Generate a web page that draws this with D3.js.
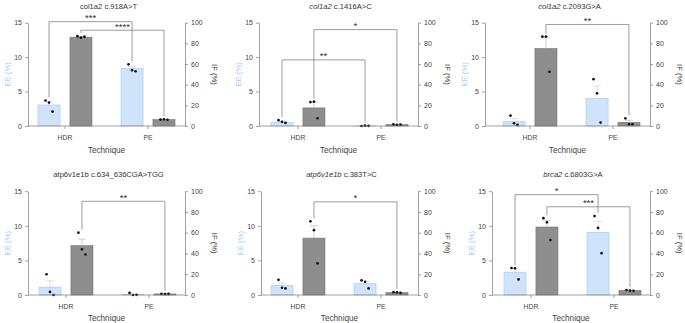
<!DOCTYPE html>
<html>
<head>
<meta charset="utf-8">
<script src="https://cdn.jsdelivr.net/npm/d3@7"></script>
<style>
  html, body { margin: 0; padding: 0; background: #fff; }
  svg { display: block; font-family: Arial, "Liberation Sans", sans-serif; }
</style>
</head>
<body>
<script>
// ---------------- DATA ----------------
const genes    = ["col1a2", "col1a2", "col1a2", "atp6v1e1b", "atp6v1e1b", "brca2"];
const variants = [" c.918A>T", " c.1416A>C", " c.2093G>A", " c.634_636CGA>TGG", " c.383T>C", " c.6803G>A"];
const italicGene = [false, true, true, false, true, true];
const groups = ["HDR", "PE"];
const series = ["EE", "IF"];
const eeTicks = [0, 5, 10, 15];
const ifTicks = [0, 20, 40, 60, 80, 100];

// per panel: [HDR, PE]
const eeMeans = [[3.05, 8.35], [0.55, 0.02], [0.68, 4.0], [1.15, 0.1], [1.4, 1.65], [3.3, 9.05]];
const eeSem   = [[0.45, 0.3], [0.15, 0.01], [0.4, 1.8], [0.9, 0.07], [0.35, 0.35], [0.5, 1.6]];
const eePoints = [
  [[3.7, 3.4, 2.1], [8.95, 8.1, 7.95]],
  [[0.85, 0.6, 0.45], [0.0, 0.05, 0.02]],
  [[1.5, 0.4, 0.15], [6.8, 4.75, 0.5]],
  [[3.0, 0.45, 0.0], [0.3, 0.0, 0.02]],
  [[2.2, 1.05, 0.95], [2.1, 1.9, 0.95]],
  [[3.9, 3.85, 2.25], [11.4, 9.7, 6.05]]
];
const ifMeans = [[86, 6.2], [17.5, 1.3], [75, 3.5], [47.5, 1.0], [54.8, 2.3], [65.5, 4.3]];
const ifSem   = [[0.7, 0.3], [5.5, 0.2], [11, 2], [6.3, 0.1], [12, 0.3], [6.5, 0.5]];
const ifPoints = [
  [[87, 85.5, 86.5], [6.2, 6.5, 6.0]],
  [[23.2, 23.5, 7.5], [1.6, 1.2, 1.3]],
  [[86.5, 86.5, 52.5], [7.4, 1.6, 1.6]],
  [[60, 44, 39], [1.1, 0.9, 1.0]],
  [[71, 62.5, 30.5], [2.7, 2.6, 2.0]],
  [[74, 70, 53], [4.8, 4.3, 4.0]]
];
// significance brackets: level in the units of the series' own axis
const brackets = [
  [{s: "EE", level: 15.15, label: "***"}, {s: "IF", level: 92.7, label: "****"}],
  [{s: "EE", level: 9.6, label: "**"}, {s: "IF", level: 93.3, label: "*"}],
  [{s: "IF", level: 98.3, label: "**"}],
  [{s: "IF", level: 90.3, label: "**"}],
  [{s: "IF", level: 89.7, label: "*"}],
  [{s: "EE", level: 14.5, label: "*"}, {s: "IF", level: 85, label: "***"}]
];

// ---------------- LAYOUT ----------------
const layout = [
  {L: 28,  R: 185, off: 10, y0: 126, y15: 22.7,  ty: 8.5,   lx: 140, tx: 153},
  {L: 259, R: 418, off: 12, y0: 126, y15: 22.7,  ty: 8.5,   lx: 140, tx: 153},
  {L: 485, R: 650, off: 18, y0: 126, y15: 22.7,  ty: 8.5,   lx: 140, tx: 153},
  {L: 28,  R: 185, off: 11, y0: 295, y15: 191.2, ty: 176.5, lx: 309, tx: 321},
  {L: 261, R: 418, off: 10, y0: 295, y15: 191.2, ty: 176.5, lx: 309, tx: 321},
  {L: 492, R: 650, off: 12, y0: 295, y15: 191.2, ty: 176.5, lx: 309, tx: 321}
];

const colors = {
  EE: {fill: "#cfe3fa", stroke: "#a3c8ee", err: "#d8d8d8"},
  IF: {fill: "#8e8e8e", stroke: "#727272", err: "#c4c4c4"}
};
const axisColor = "#7a7a7a";
const textColor = "#444";
const jitter = [-0.16, 0, 0.16];

const svg = d3.select("body").append("svg").attr("width", 685).attr("height", 323);

layout.forEach((lay, i) => {
  const g = svg.append("g");
  const yEE = d3.scaleLinear().domain([0, 15]).range([lay.y0, lay.y15]);
  const yIF = d3.scaleLinear().domain([0, 100]).range([lay.y0, lay.y15]);
  const yOf = s => (s === "EE" ? yEE : yIF);
  const x = d3.scaleBand().domain(groups)
    .range([lay.L + lay.off, lay.L + lay.off + 137]).paddingInner(0.35).paddingOuter(0);
  const xs = d3.scaleBand().domain(series).range([0, x.bandwidth()]).paddingInner(0.31).paddingOuter(0);

  const means = {EE: eeMeans[i], IF: ifMeans[i]};
  const sems = {EE: eeSem[i], IF: ifSem[i]};
  const pts = {EE: eePoints[i], IF: ifPoints[i]};

  const recs = [];
  groups.forEach((grp, gi) => series.forEach(s => {
    recs.push({grp, s, mean: means[s][gi], sem: sems[s][gi], pts: pts[s][gi]});
  }));

  // bars
  g.selectAll("rect.bar").data(recs).join("rect")
    .attr("class", "bar")
    .attr("x", d => x(d.grp) + xs(d.s))
    .attr("y", d => yOf(d.s)(d.mean))
    .attr("width", xs.bandwidth())
    .attr("height", d => yOf(d.s)(0) - yOf(d.s)(d.mean))
    .attr("fill", d => colors[d.s].fill)
    .attr("stroke", d => colors[d.s].stroke)
    .attr("stroke-width", 0.6);

  // error bars (upper)
  recs.forEach(d => {
    const cx = x(d.grp) + xs(d.s) + xs.bandwidth() / 2;
    const ys = yOf(d.s);
    g.append("line").attr("x1", cx).attr("x2", cx)
      .attr("y1", ys(d.mean)).attr("y2", ys(d.mean + d.sem))
      .attr("stroke", colors[d.s].err).attr("stroke-width", 0.8);
    g.append("line").attr("x1", cx - 4).attr("x2", cx + 4)
      .attr("y1", ys(d.mean + d.sem)).attr("y2", ys(d.mean + d.sem))
      .attr("stroke", colors[d.s].err).attr("stroke-width", 0.8);
  });

  // points
  recs.forEach(d => {
    const cx = x(d.grp) + xs(d.s) + xs.bandwidth() / 2;
    const ys = yOf(d.s);
    g.selectAll(null).data(d.pts).join("circle")
      .attr("cx", (v, k) => cx + jitter[k] * xs.bandwidth())
      .attr("cy", v => ys(v))
      .attr("r", 1.35)
      .attr("fill", "#111");
  });

  // axes
  const left = g.append("g").attr("transform", `translate(${lay.L},0)`)
    .call(d3.axisLeft(yEE).tickValues(eeTicks).tickSize(3).tickSizeOuter(0).tickPadding(3));
  const right = g.append("g").attr("transform", `translate(${lay.R},0)`)
    .call(d3.axisRight(yIF).tickValues(ifTicks).tickSize(3).tickSizeOuter(0).tickPadding(3));
  [left, right].forEach(a => {
    a.select(".domain").attr("stroke", axisColor).attr("stroke-width", 0.7);
    a.selectAll(".tick line").attr("stroke", axisColor).attr("stroke-width", 0.7);
    a.selectAll(".tick text").attr("fill", textColor).attr("font-size", 7)
      .attr("font-family", "Arial, 'Liberation Sans', sans-serif");
  });

  // x axis
  g.append("line").attr("x1", lay.L).attr("x2", lay.R).attr("y1", lay.y0).attr("y2", lay.y0)
    .attr("stroke", axisColor).attr("stroke-width", 0.7);
  groups.forEach(grp => {
    const cx = x(grp) + x.bandwidth() / 2;
    g.append("line").attr("x1", cx).attr("x2", cx).attr("y1", lay.y0).attr("y2", lay.y0 + 3)
      .attr("stroke", axisColor).attr("stroke-width", 0.7);
    g.append("text").attr("x", cx).attr("y", lay.lx).attr("text-anchor", "middle")
      .attr("font-size", 6.8).attr("fill", textColor).text(grp);
  });
  const mid = (lay.L + lay.R) / 2;
  g.append("text").attr("x", mid).attr("y", lay.tx).attr("text-anchor", "middle")
    .attr("font-size", 8.2).attr("fill", textColor).text("Technique");

  // title
  const t = g.append("text").attr("x", mid + 2).attr("y", lay.ty).attr("text-anchor", "middle")
    .attr("font-size", 7.6).attr("fill", "#333");
  t.append("tspan").attr("font-style", italicGene[i] ? "italic" : "normal").text(genes[i]);
  t.append("tspan").text(variants[i]);

  // axis titles
  const ym = (lay.y0 + lay.y15) / 2;
  g.append("text").attr("transform", `translate(${lay.L - 21},${ym}) rotate(-90)`)
    .attr("text-anchor", "middle").attr("dominant-baseline", "central")
    .attr("font-size", 7.6).attr("fill", "#a9cdf0").text("EE (%)");
  g.append("text").attr("transform", `translate(${lay.R + 29},${ym}) rotate(90)`)
    .attr("text-anchor", "middle").attr("dominant-baseline", "central")
    .attr("font-size", 7.6).attr("fill", "#333").text("IF (%)");

  // significance brackets
  brackets[i].forEach(b => {
    const ys = yOf(b.s);
    const endY = gi => {
      const top = Math.max(d3.max(pts[b.s][gi]), means[b.s][gi] + sems[b.s][gi]);
      return ys(top) - 3;
    };
    const x1 = x(groups[0]) + xs(b.s) + xs.bandwidth() / 2;
    const x2 = x(groups[1]) + xs(b.s) + xs.bandwidth() / 2;
    const top = ys(b.level);
    g.append("path")
      .attr("d", `M${x1},${endY(0)}V${top}H${x2}V${endY(1)}`)
      .attr("fill", "none").attr("stroke", "#7e7e7e").attr("stroke-width", 0.75);
    g.append("text").attr("x", (x1 + x2) / 2).attr("y", top - 0.5)
      .attr("text-anchor", "middle").attr("font-size", 9.5).attr("fill", "#333").text(b.label);
  });
});
</script>
</body>
</html>
